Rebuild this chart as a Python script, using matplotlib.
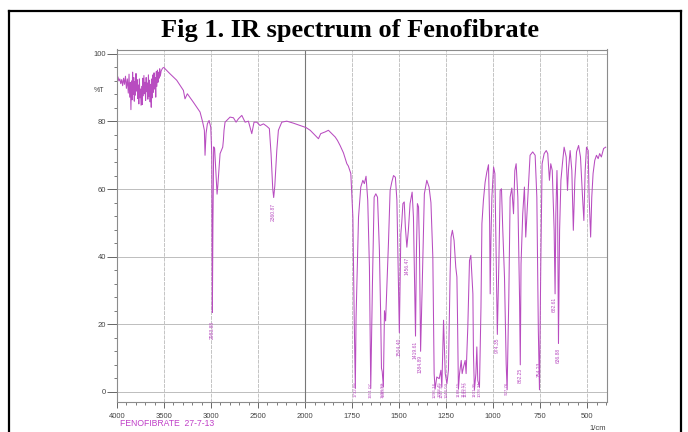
import numpy as np
import matplotlib.pyplot as plt
from matplotlib.lines import Line2D
from matplotlib.ticker import FixedLocator, NullFormatter

# IR spectrum of Fenofibrate (wavenumber 1/cm, %T)
wn_noise = [4000, 3990, 3980, 3970, 3960, 3950, 3940, 3930, 3920, 3910, 3900, 3890,
            3880, 3872, 3865, 3858, 3852, 3846, 3840, 3834, 3828, 3822, 3816, 3810,
            3804, 3798, 3792, 3786, 3780, 3774, 3768, 3762, 3756, 3750, 3744, 3738,
            3732, 3726, 3720, 3714, 3708, 3702, 3696, 3690, 3684, 3678, 3672, 3666,
            3660, 3654, 3648, 3642, 3636, 3630, 3624, 3618, 3612, 3606, 3600, 3594,
            3588, 3582, 3576, 3570, 3564, 3558, 3552, 3546, 3540, 3530, 3515, 3500, 3489]
t_noise = [92.8, 93.2, 92.0, 92.6, 91.2, 92.4, 90.6, 92.8, 91.0, 93.4, 89.8, 92.6,
           88.4, 94.0, 87.2, 91.5, 83.5, 92.0, 86.4, 94.6, 88.0, 93.0, 86.0, 91.8,
           87.8, 94.2, 89.0, 92.4, 86.8, 90.8, 85.2, 92.6, 87.0, 89.6, 84.8, 90.4,
           85.0, 92.8, 87.6, 93.6, 88.2, 91.6, 86.2, 93.0, 88.8, 91.4, 86.6, 93.8,
           87.4, 92.2, 85.8, 91.0, 84.2, 92.6, 87.0, 93.8, 88.6, 94.4, 89.6, 93.0,
           87.2, 94.8, 90.4, 95.2, 91.6, 94.6, 92.8, 95.6, 93.4, 95.0, 95.8, 96.0, 95.6]

wn_mid = [3436, 3365, 3294, 3277, 3252, 3188, 3117, 3089, 3071, 3064, 3053, 3039,
          3021, 3003, 2992, 2986, 2980, 2972, 2962, 2946, 2936, 2928, 2904, 2876,
          2869, 2862, 2851, 2798, 2762, 2734, 2709, 2673, 2638, 2603, 2567, 2543,
          2514, 2479, 2443, 2408, 2380, 2362, 2344, 2334, 2322, 2301, 2284, 2248,
          2195, 2124, 2053, 1995, 1973, 1947, 1929, 1917, 1894, 1876, 1858, 1840,
          1828, 1814, 1796, 1778, 1770, 1757]
t_mid = [94.1, 92.2, 89.2, 86.7, 88.2, 85.7, 82.8, 79.8, 77.4, 70.0, 76.5, 79.3,
         80.3, 78.3, 70.0, 23.5, 50.0, 72.5, 72.0, 64.0, 58.5, 61.0, 70.5, 72.4,
         74.4, 77.4, 79.8, 81.3, 81.1, 79.8, 80.8, 81.8, 79.8, 80.1, 76.4, 79.8,
         79.8, 78.8, 79.3, 78.6, 77.9, 70.5, 60.0, 57.5, 61.0, 71.4, 77.4, 79.8,
         80.1, 79.5, 78.8, 78.2, 77.4, 75.9, 74.9, 76.4, 76.9, 77.4, 76.4, 75.4,
         74.4, 72.9, 70.7, 67.5, 66.8, 64.6]

wn_finger = [1746, 1739, 1733, 1729, 1716, 1704, 1693, 1685, 1676, 1667, 1658, 1651,
             1642, 1633, 1624, 1615, 1605, 1598, 1594, 1590, 1584, 1578, 1572, 1566,
             1557, 1548, 1539, 1530, 1520, 1512, 1504, 1499, 1491, 1486, 1480, 1473,
             1467, 1459, 1451, 1442, 1431, 1424, 1417, 1413, 1408, 1403, 1397, 1392,
             1386, 1378, 1366, 1353, 1341, 1331, 1321, 1314, 1309, 1300, 1287, 1278,
             1273, 1264, 1255, 1246, 1238, 1229, 1224, 1217, 1208, 1199, 1193, 1190,
             1185, 1179, 1170, 1165, 1158, 1149, 1144, 1135, 1126, 1119, 1112, 1108,
             1105, 1100, 1092, 1087, 1082, 1073, 1065, 1060, 1052, 1043, 1034, 1025,
             1019, 1016, 1012, 1007, 998, 991, 984, 978, 970, 963, 956, 949,
             940, 931, 926, 917, 910, 901, 892, 885, 878, 869, 860, 856,
             852, 843, 834, 827, 816, 804, 790, 777, 768, 760, 754, 747,
             740, 729, 718, 710, 701, 694, 686, 676, 671, 667, 661, 658,
             653, 647, 640, 632, 623, 612, 605, 600, 591, 582, 574, 566,
             557, 546, 536, 525, 518, 511, 504, 495, 490, 482, 476, 469,
             460, 451, 442, 434, 425, 413, 402]
t_finger = [51.7, 22.1, 1.0, 22.0, 51.7, 60.6, 62.6, 61.6, 63.8, 56.7, 36.9, 1.0,
            32.0, 57.6, 58.6, 57.6, 41.9, 22.0, 7.0, 6.0, 1.5, 24.0, 21.0, 30.0,
            43.8, 59.6, 62.1, 64.0, 63.5, 56.7, 32.0, 17.5, 46.8, 50.2, 55.7, 56.2,
            48.8, 42.8, 47.8, 55.7, 59.1, 51.7, 30.0, 16.5, 41.9, 55.7, 54.7, 42.8,
            12.0, 30.0, 58.6, 62.6, 60.6, 56.0, 40.0, 5.4, 0.8, 4.4, 3.9, 6.4,
            1.4, 21.2, 5.4, 2.4, 6.4, 35.0, 45.8, 47.8, 44.8, 36.9, 34.0, 23.1,
            0.8, 5.4, 9.3, 5.4, 7.3, 9.3, 5.4, 19.2, 38.9, 40.4, 33.0, 29.0,
            11.3, 0.6, 5.4, 13.3, 3.4, 1.4, 25.0, 49.8, 56.7, 62.0, 65.0, 67.2,
            50.0, 29.0, 45.0, 57.6, 66.5, 64.6, 37.9, 17.0, 37.9, 59.6, 60.1, 47.8,
            34.0, 8.3, 0.6, 28.0, 57.6, 60.3, 52.7, 65.5, 67.5, 57.6, 28.0, 8.0,
            37.9, 52.7, 60.6, 45.8, 57.6, 70.0, 71.0, 70.0, 57.6, 18.0, 0.6, 37.9,
            67.5, 70.5, 71.4, 70.5, 62.6, 67.5, 65.5, 47.8, 29.0, 52.7, 65.5, 57.6,
            14.3, 47.8, 62.6, 67.5, 72.4, 69.5, 59.6, 65.5, 71.4, 65.5, 47.8, 62.6,
            71.0, 72.9, 69.5, 57.6, 50.7, 65.5, 72.4, 71.4, 57.6, 45.8, 57.6, 64.6,
            68.5, 70.0, 69.0, 70.5, 69.5, 72.0, 72.4]

wn = wn_noise + wn_mid + wn_finger
trans = t_noise + t_mid + t_finger

# peak marks printed by the instrument
peak_wn = [2986, 2334, 1499, 1459, 1413, 1386, 978, 856, 676, 653, 754]
peak_top = [21, 56, 16, 40, 15, 11, 16, 7, 28, 13, 9]
peak_txt = ['2983.88', '2360.87', '1504.40', '1456.47', '1419.61', '1384.89',
            '974.35', '862.25', '682.61', '636.88', '754.23']
low_wn = [1733, 1651, 1590, 1584, 1309, 1287, 1273, 1246, 1185, 1158, 1144, 1100, 1073, 926]
low_txt = ['1732.08', '1651.07', '1598.99', '1583.56', '1296.16', '1288.45', '1247.94',
           '1244.09', '1188.15', '1149.57', '1143.79', '1101.35', '1078.21', '927.76']

x_major = [4000, 3500, 3000, 2500, 2000, 1750, 1500, 1250, 1000, 750, 500]
x_minor = [w for w in range(3900, 2000, -100) if w % 500] + \
          [w for w in range(1950, 399, -50) if w % 250]
y_major = [0, 20, 40, 60, 80, 100]
y_minor = [v for v in range(0, 101, 4)]

line_col = '#b84cc0'
text_col = '#444444'
narrow = ['Liberation Sans Narrow', 'Liberation Sans', 'DejaVu Sans']


def fwd(w):
    # spectrometer scale: half-size above 2000 1/cm
    w = np.asarray(w, float)
    return np.where(w >= 2000, w / 500.0, w / 250.0 - 4.0)


def inv(u):
    u = np.asarray(u, float)
    return np.where(u >= 4, u * 500.0, (u + 4.0) * 250.0)


fig = plt.figure(figsize=(6.88, 4.32), dpi=100)
W, H = 688, 432
ax = fig.add_axes([117 / W, (H - 402) / H, (607 - 117) / W, (402 - 49.5) / H])

ax.set_xscale('function', functions=(fwd, inv))
ax.set_xlim(4000, 395)
ax.set_ylim(-3, 101.3)

ax.xaxis.set_major_locator(FixedLocator(x_major))
ax.xaxis.set_minor_locator(FixedLocator(x_minor))
ax.xaxis.set_minor_formatter(NullFormatter())
ax.set_xticklabels([str(v) for v in x_major])
ax.yaxis.set_major_locator(FixedLocator(y_major))
ax.yaxis.set_minor_locator(FixedLocator(y_minor))
ax.yaxis.set_minor_formatter(NullFormatter())
ax.set_yticklabels([str(v) for v in y_major])

ax.tick_params(which='major', direction='out', length=4, width=0.7, color='#666666',
               labelsize=5.5, labelcolor=text_col, pad=4)
ax.tick_params(axis='y', which='major', length=7, pad=1)
ax.tick_params(which='minor', direction='out', length=2.5, width=0.6, color='#666666')
for lab in ax.get_xticklabels() + ax.get_yticklabels():
    lab.set_family(narrow)

for s in ax.spines.values():
    s.set_color('#8c8c8c')
    s.set_linewidth(0.8)

for v in y_major:
    ax.axhline(v, color='#bdbdbd', lw=0.7, zorder=0)
for v in x_major[1:]:
    ax.axvline(v, color='#c4c4c4', lw=0.7, ls=(0, (4, 1)), zorder=0)
ax.axvline(2000, color='#777777', lw=0.8, zorder=0)

ax.plot(wn, trans, color=line_col, lw=0.75)

for w, t, s in zip(peak_wn, peak_top, peak_txt):
    ax.text(w, t, s, rotation=90, ha='center', va='top', fontsize=3.6,
            color=line_col, family=narrow)
for w, s in zip(low_wn, low_txt):
    ax.text(w, 3, s, rotation=90, ha='center', va='top', fontsize=3.2,
            color=line_col, family=narrow, clip_on=True)

fig.text(104 / W, 1 - 90 / H, '%T', fontsize=5, color=text_col, ha='right', va='center',
         family=narrow)
fig.text(120 / W, 1 - 424 / H, 'FENOFIBRATE  27-7-13', fontsize=6.2, color='#c040c8',
         ha='left', va='center', family=narrow)
fig.text(606 / W, 1 - 428 / H, '1/cm', fontsize=5.5, color=text_col, ha='right', va='center',
         family=narrow)

fig.text(350 / W, 1 - 37.5 / H, 'Fig 1. IR spectrum of Fenofibrate', ha='center',
         va='baseline', fontsize=19, fontweight='bold', family='Liberation Serif')

# outer box of the figure page
for xs, ys in [([9, 9], [H + 5, 11]), ([9, 681], [11, 11]), ([681, 681], [11, H + 5])]:
    fig.add_artist(Line2D([x / W for x in xs], [1 - y / H for y in ys], color='black',
                          lw=1.6, transform=fig.transFigure))

fig.savefig('out.png', dpi=100)
